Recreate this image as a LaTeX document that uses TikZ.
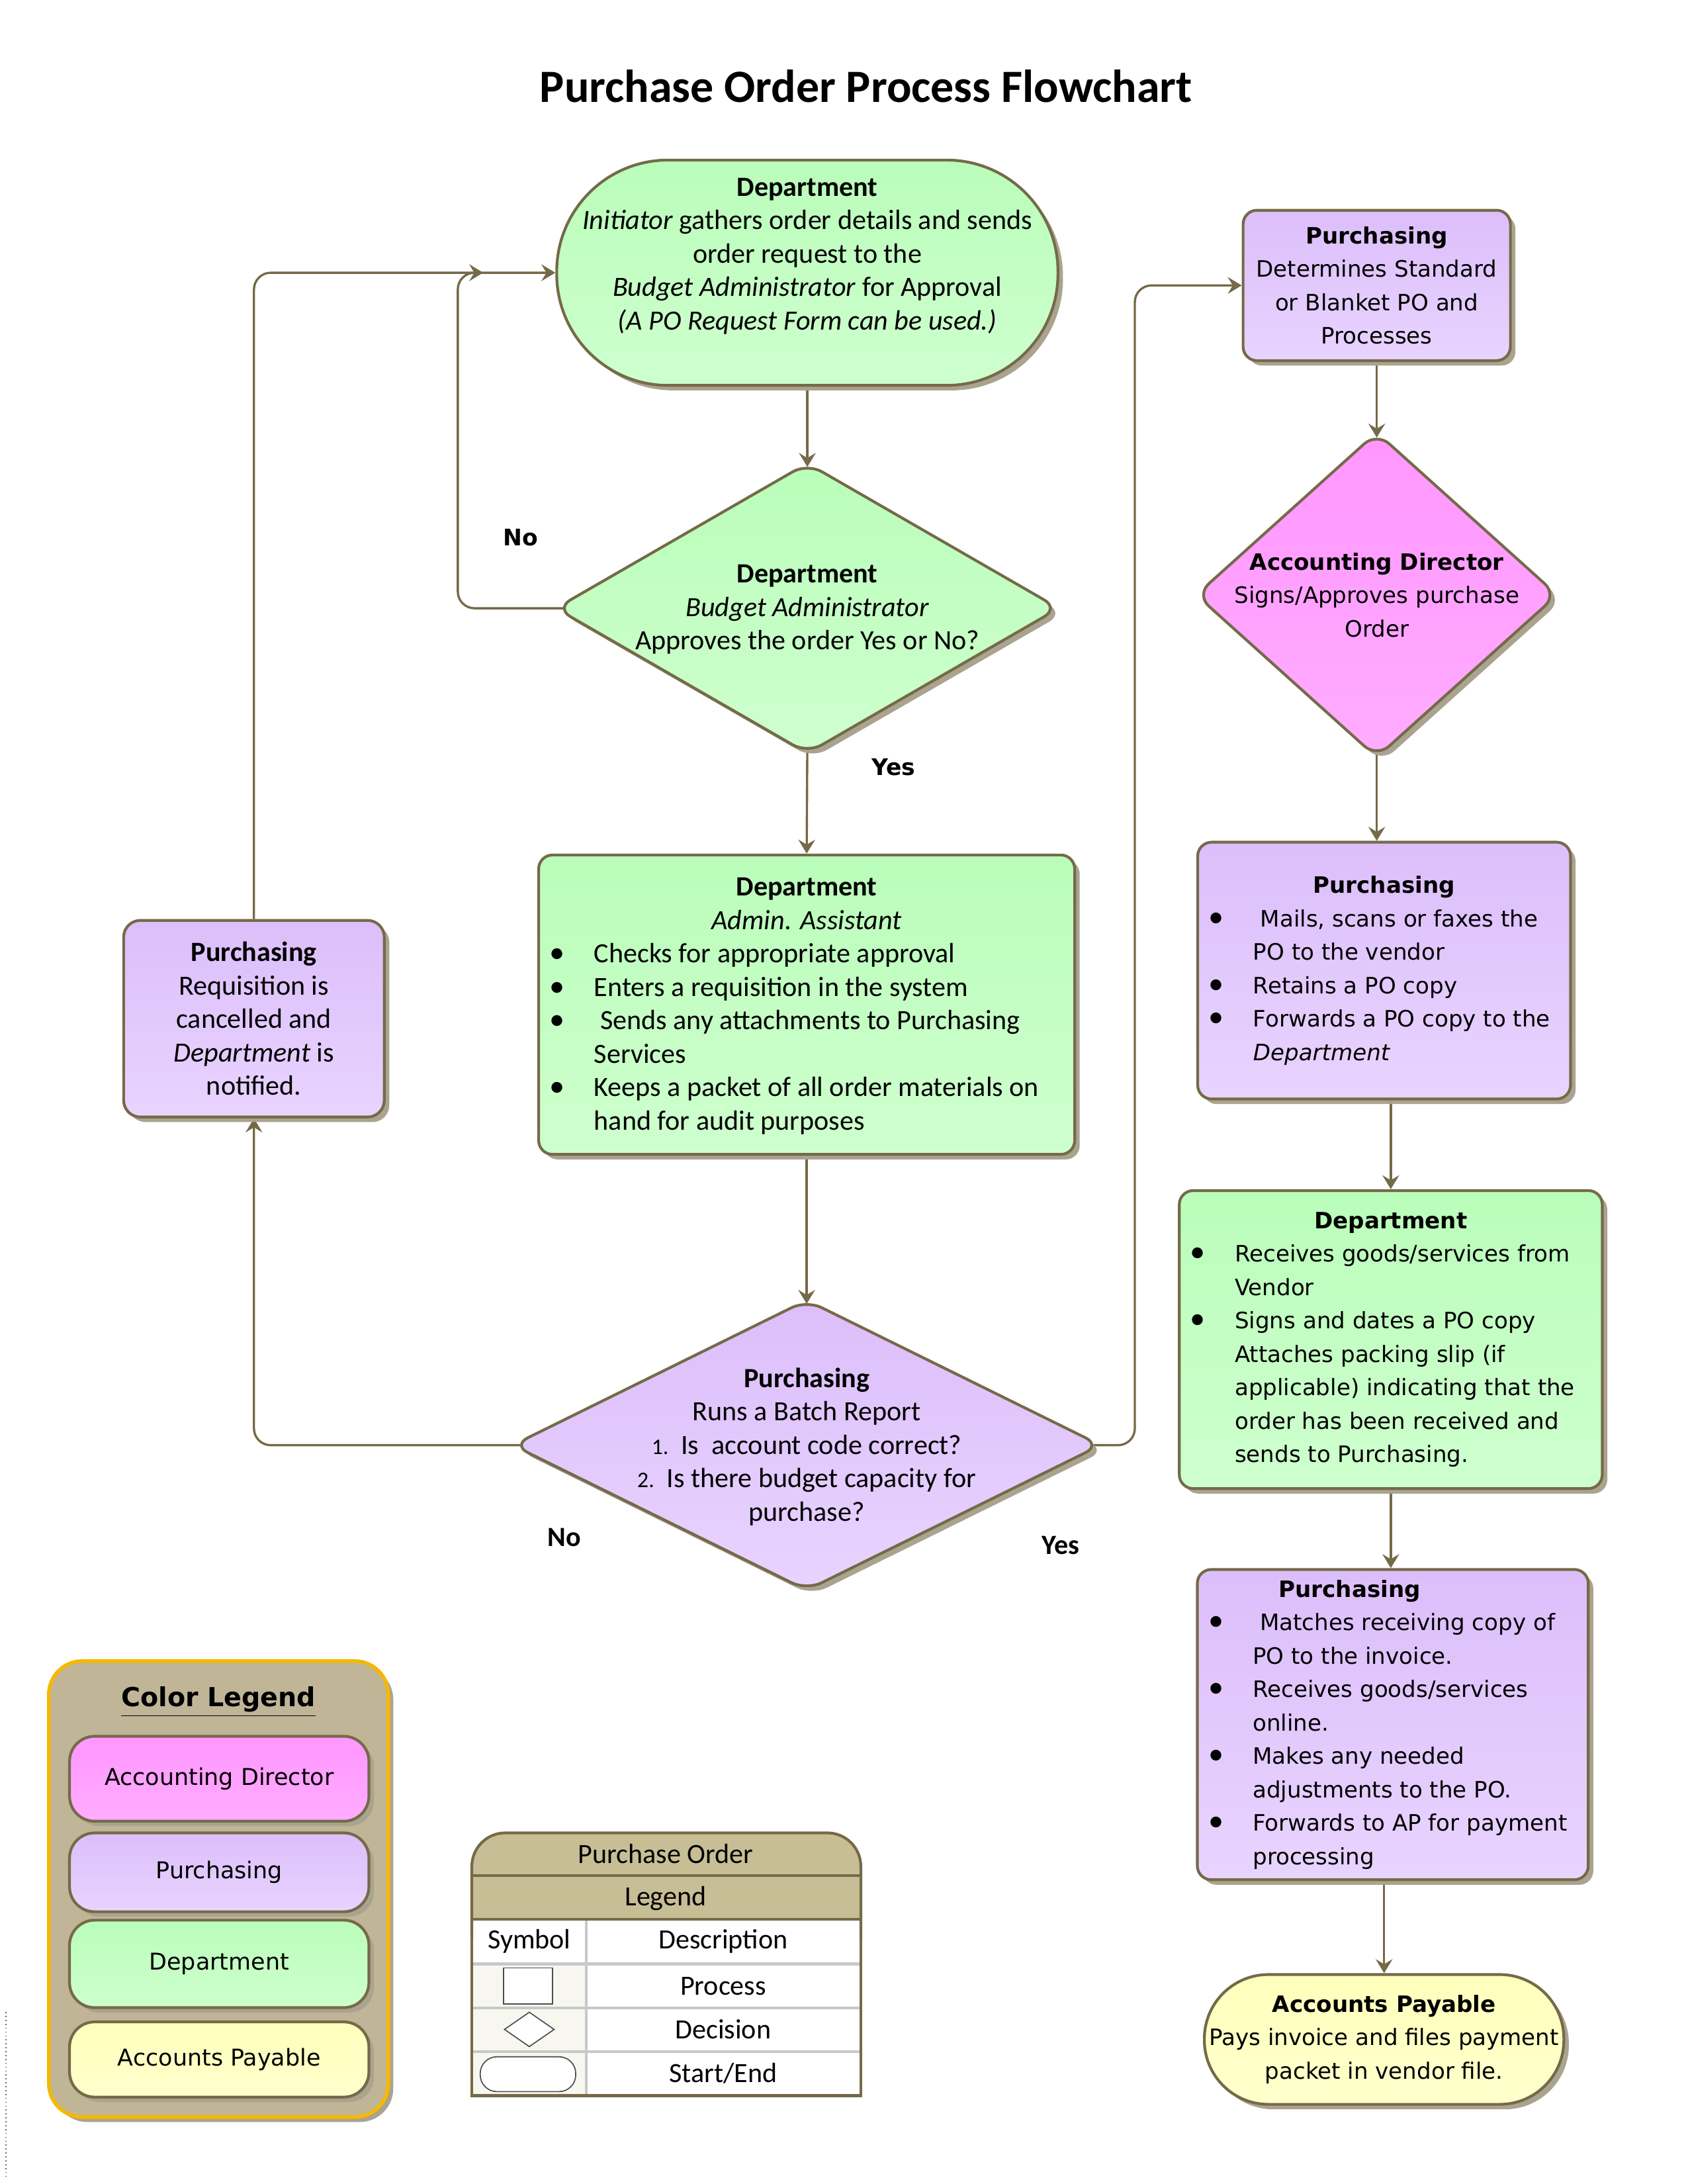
\documentclass[tikz,border=0pt]{standalone}
\usepackage{fontspec}
\setmainfont{Carlito}
\newfontfamily\vfont{DejaVu Sans}
\usetikzlibrary{shapes.geometric,shadows,arrows.meta,calc}
\setlength{\parindent}{0pt}
\pgfdeclarelayer{back}
\pgfdeclarelayer{bg}
\pgfsetlayers{back,bg,main}
\definecolor{edgec}{RGB}{117,106,72}
\definecolor{grnA}{RGB}{186,253,186}
\definecolor{grnB}{RGB}{206,255,206}
\definecolor{purA}{RGB}{220,190,250}
\definecolor{purB}{RGB}{232,212,255}
\definecolor{pinkA}{RGB}{255,150,255}
\definecolor{pinkB}{RGB}{255,172,255}
\definecolor{yelA}{RGB}{255,255,188}
\definecolor{yelB}{RGB}{255,255,204}
\definecolor{legbg}{RGB}{193,181,152}
\definecolor{legbord}{RGB}{245,185,0}
\definecolor{hdrc}{RGB}{200,190,150}
\definecolor{symc}{RGB}{247,247,240}
\definecolor{gridc}{RGB}{200,200,200}
\definecolor{shadowc}{RGB}{170,163,143}
\newcommand{\natsp}{\spaceskip=0pt\xspaceskip=0pt\relax}
\newcommand{\bulit}[1]{\par\natsp\hangindent=18pt\hangafter=1\noindent\makebox[18pt][l]{\hspace*{2pt}{\rmfamily\fontsize{11}{12}\selectfont\textbullet}}#1\par}
\begin{document}
\begin{tikzpicture}[x=0.24pt,y=-0.24pt,
  shad/.style={drop shadow={shadow xshift=1.8pt,shadow yshift=-1.8pt,fill=shadowc,opacity=1}},
  procbox/.style={rectangle,draw=edgec,line width=1pt,rounded corners=5pt,shad,inner sep=0pt},
  term/.style={rectangle,draw=edgec,line width=1pt,shad,inner sep=0pt},
  dia/.style={diamond,draw=edgec,line width=1pt,rounded corners=6pt,shad,inner sep=0pt},
  gfill/.style={top color=grnA,bottom color=grnB},
  pfill/.style={top color=purA,bottom color=purB},
  kfill/.style={top color=pinkA,bottom color=pinkB},
  yfill/.style={top color=yelA,bottom color=yelB},
  cal/.style={font=\fontsize{10}{12}\selectfont,align=center,inner sep=0pt},
  ver/.style={font=\vfont\fontsize{8.1}{12}\selectfont,align=center,inner sep=0pt},
  verb/.style={font=\vfont\bfseries\fontsize{8.2}{10}\selectfont,inner sep=0pt},
  calb/.style={font=\bfseries\fontsize{10}{12}\selectfont,inner sep=0pt},
  arr/.style={draw=edgec,line width=0.8pt,rounded corners=6pt,-{Stealth[length=5pt,width=6pt,inset=1.8pt]}},
  thinsym/.style={draw=black!70,line width=0.4pt,fill=white,inner sep=0pt}
]
\begin{pgfonlayer}{back}
\fill[white] (0,0) rectangle (2550,3300);
\end{pgfonlayer}

% title
\node[font=\bfseries\fontsize{16.6}{19}\selectfont,inner sep=0pt] (title) at (1296,129) {Purchase Order Process Flowchart};

% central column
\node[term,gfill,rounded corners=40pt,minimum width=180pt,minimum height=80.9pt,
  label={[cal,yshift=6pt,name=startT]center:{\textbf{Department}\\\textit{Initiator} gathers order details and sends\\order request to the\\\textit{Budget Administrator} for Approval\\\textit{(A PO Request Form can be used.)}}}] (start) at (1208,408) {};

\node[dia,gfill,minimum width=181pt,minimum height=104.5pt,
  label={[cal,yshift=-0.5pt,name=d1T]center:{\textbf{Department}\\\textit{Budget Administrator}\\Approves the order Yes or No?}}] (d1) at (1208,910) {};

\node[procbox,gfill,minimum width=192.5pt,minimum height=107.5pt] (admin) at (1207,1503) {};
\node[cal,text width=188.7pt,align=left,yshift=-0.5pt] (adminT) at (admin.center) {\natsp{\centering\textbf{Department}\par\textit{Admin. Assistant}\par}\bulit{Checks for appropriate approval}\bulit{Enters a requisition in the system}\bulit{\ Sends any attachments to Purchasing\newline Services}\bulit{Keeps a packet of all order materials on\newline hand for audit purposes}};

\node[dia,pfill,minimum width=211.5pt,minimum height=104.5pt,
  label={[cal,yshift=-0.5pt,name=d2T]center:{\textbf{Purchasing}\\Runs a Batch Report\\{\fontsize{8}{12}\selectfont 1.}\ \ Is\ \ account code correct?\\{\fontsize{8}{12}\selectfont 2.}\ \ Is there budget capacity for\\purchase?}}] (d2) at (1207,2162) {};

% left box
\node[procbox,pfill,rounded corners=6pt,minimum width=93.6pt,minimum height=70.6pt] (req) at (380,1524) {};
\node[cal] (reqT) at (req.center) {\textbf{Purchasing}\\Requisition is\\cancelled and\\\textit{Department} is\\notified.};

% right column
\node[procbox,pfill,minimum width=96pt,minimum height=54pt] (pdet) at (2060,427) {};
\node[ver] (pdetT) at (pdet.center) {\textbf{Purchasing}\\Determines Standard\\or Blanket PO and\\Processes};

\node[dia,kfill,minimum width=130pt,minimum height=117pt,
  label={[ver,name=adT]center:{\textbf{Accounting Director}\\Signs/Approves purchase\\Order}}] (ad) at (2060,890) {};

\node[procbox,pfill,minimum width=133.9pt,minimum height=92.2pt] (mails) at (2071,1452) {};
\node[ver,text width=130pt,align=left] (mailsT) at (mails.center) {\natsp{\centering\textbf{Purchasing}\par}\bulit{\ Mails, scans or faxes the\newline PO to the vendor}\bulit{Retains a PO copy}\bulit{Forwards a PO copy to the\newline\textit{Department}}};

\node[procbox,gfill,minimum width=151.9pt,minimum height=107pt] (drec) at (2081,2004) {};
\node[ver,text width=148pt,align=left] (drecT) at (drec.center) {\natsp{\centering\textbf{Department}\par}\bulit{Receives goods/services from\newline Vendor}\bulit{Signs and dates a PO copy\newline Attaches packing slip (if\newline applicable) indicating that the\newline order has been received and\newline sends to Purchasing.}};

\node[procbox,pfill,minimum width=140.4pt,minimum height=111.4pt] (match) at (2084,2580) {};
\node[ver,text width=136.5pt,align=left] (matchT) at (match.center) {\natsp{\centering\hspace*{-31pt}\textbf{Purchasing}\par}\bulit{\ Matches receiving copy of\newline PO to the invoice.}\bulit{Receives goods/services\newline online.}\bulit{Makes any needed\newline adjustments to the PO.}\bulit{Forwards to AP for payment\newline processing}};

\node[term,yfill,rounded corners=23pt,minimum width=129.1pt,minimum height=46.6pt] (ap) at (2071,3051) {};
\node[ver] (apT) at (ap.center) {\textbf{Accounts Payable}\\Pays invoice and files payment\\packet in vendor file.};

% branch labels
\node[verb] (no1) at (779,804) {No};
\node[verb] (yes1) at (1337,1148) {Yes};
\node[calb] (no2) at (844,2300) {No};
\node[calb] (yes2) at (1587,2312) {Yes};

% helper coordinates
\coordinate (inL) at (685,600);
\coordinate (jn) at (723,408);
\coordinate (rC) at (1698,1000);

% connectors
\begin{pgfonlayer}{bg}
\draw[arr] (start.south) -- ([yshift=-2pt]d1.north);
\draw[arr] ([xshift=5pt]d1.west) -- (d1.west -| inL) |- (start.west);
\draw[arr] ([yshift=5pt]d1.south) -- (admin.north);
\draw[arr] (admin.south) -- ([yshift=-2pt]d2.north);
\draw[arr] ([xshift=5pt]d2.west) -| (req.south);
\draw[arr] (req.north) |- (jn);
\draw[arr] ([xshift=-5pt]d2.east) -- (d2.east -| rC) |- (pdet.west);
\draw[arr] (pdet.south) -- ([yshift=-2.5pt]ad.north);
\draw[arr] ([yshift=5pt]ad.south) -- (ad.south |- mails.north);
\draw[arr] (drec.north |- mails.south) -- (drec.north);
\draw[arr] (drec.south) -- (drec.south |- match.north);
\draw[arr] (ap.north |- match.south) -- (ap.north);
\end{pgfonlayer}

% colour legend
\node[draw=legbord,line width=1.3pt,fill=legbg,rounded corners=12pt,minimum width=121.9pt,minimum height=163.7pt,shad,inner sep=0pt] (leg) at (327,2826) {};
\node[font=\vfont\bfseries\fontsize{9.4}{11}\selectfont,inner sep=0pt] (legT) at (327,2546) {\underline{Color Legend}};
\node[procbox,kfill,rounded corners=9pt,minimum width=107.5pt,minimum height=30.5pt,font=\vfont\fontsize{8.3}{10}\selectfont] (legAD) at (328,2661) {Accounting Director};
\node[procbox,pfill,rounded corners=9pt,minimum width=107.5pt,minimum height=28.3pt,font=\vfont\fontsize{8.3}{10}\selectfont] (legPU) at (328,2801) {Purchasing};
\node[procbox,gfill,rounded corners=9pt,minimum width=107.5pt,minimum height=31.4pt,font=\vfont\fontsize{8.3}{10}\selectfont] (legDE) at (328,2938) {Department};
\node[procbox,yfill,rounded corners=9pt,minimum width=107.5pt,minimum height=27pt,font=\vfont\fontsize{8.3}{10}\selectfont] (legAP) at (328,3081) {Accounts Payable};

% symbol legend table
\fill[hdrc,rounded corners=12pt] (706,2742) rectangle (1288,2871);
\fill[hdrc] (706,2820) rectangle (1288,2871);
\fill[symc] (706,2938) rectangle (877,3135);
\draw[gridc,line width=1pt] (706,2938) -- (1288,2938) (706,3004) -- (1288,3004) (706,3069) -- (1288,3069) (877,2871) -- (877,3135);
\draw[edgec,line width=1pt] (706,2806) -- (1288,2806) (706,2871) -- (1288,2871);
\draw[edgec,line width=1pt,rounded corners=12pt] (706,2900) -- (706,2742) -- (1288,2742) -- (1288,2900);
\draw[edgec,line width=1pt] (706,2890) -- (706,3135) -- (1288,3135) -- (1288,2890);
\node[cal] (tPO) at (996,2773) {Purchase Order};
\node[cal] (tLeg) at (996,2840) {Legend};
\node[cal] (tSym) at (792,2904) {Symbol};
\node[cal] (tDesc) at (1082,2904) {Description};
\node[cal] (tProc) at (1082,2971) {Process};
\node[cal] (tDec) at (1082,3036) {Decision};
\node[cal] (tSE) at (1082,3102) {Start/End};
\node[thinsym,minimum width=17.5pt,minimum height=13pt] (sProc) at (790,2971) {};
\node[thinsym,diamond,minimum width=18pt,minimum height=12.5pt] (sDec) at (792,3036) {};
\node[thinsym,rounded corners=6pt,minimum width=34.3pt,minimum height=12.5pt] (sSE) at (790,3103) {};

% stray mark at left edge
\draw[edgec,line width=0.4pt,densely dotted] (9,3010) -- (9,3260);

\pgfresetboundingbox
\useasboundingbox (0,0) rectangle (2524.75,3267.3);
\end{tikzpicture}
\end{document}
